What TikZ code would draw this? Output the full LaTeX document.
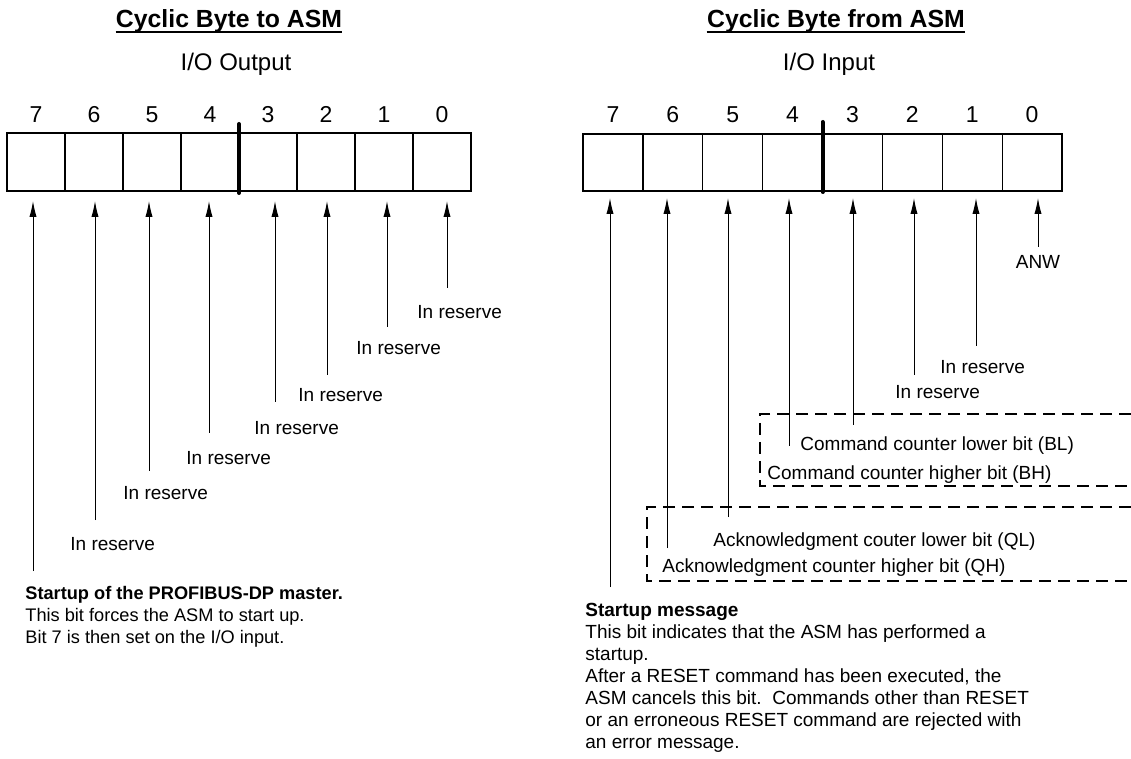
\documentclass[tikz,border=0pt]{standalone}
\usepackage{fontspec}
\setmainfont{Liberation Sans}
\usetikzlibrary{arrows.meta,positioning}

\tikzset{
  bitcell/.style={draw, line width=0.6pt, minimum width=#1, minimum height=29pt, outer sep=0pt, inner sep=0pt},
  bitcell/.default=29pt,
  bitnum/.style={font=\fontsize{11.5}{13}\selectfont, anchor=base, inner sep=0pt},
  divider/.style={line width=2pt, line cap=round},
  bitarrow/.style={-{Latex[length=8pt,width=3.6pt]}, line width=0.5pt},
  heading/.style={font=\fontsize{12.4}{14}\selectfont\bfseries, anchor=base, inner sep=0pt},
  subheading/.style={font=\fontsize{12}{14}\selectfont, anchor=base, inner sep=0pt},
  note/.style={font=\fontsize{9.5}{11}\selectfont, anchor=base west, inner sep=0pt},
  descr/.style={font=\fontsize{9.5}{11}\selectfont, anchor=north west, align=left, inner sep=0pt},
  groupframe/.style={line width=1.2pt, dash pattern=on 6pt off 3.5pt}
}

\begin{document}
\begin{tikzpicture}[x=0.5pt, y=-0.5pt]
  \useasboundingbox (0,0) rectangle (1131,759);

  % output byte (to the ASM)
  \node[heading] (outtitle) at (229,28) {Cyclic Byte to ASM};
  \draw[line width=0.85pt] ([yshift=-2pt]outtitle.base west) -- ([yshift=-2pt]outtitle.base east);
  \node[subheading] (outsub) at (236,71) {I/O Output};
  \foreach \b in {7,...,0} {
    \node[bitcell] (o\b) at ({36+58*(7-\b)},162) {};
    \node[bitnum] (on\b) at ({36+58*(7-\b)},123) {\b};
  }
  \draw[divider] ([yshift=-1pt]o4.south east) -- ([yshift=4.5pt]o4.north east);

  \foreach \b/\px/\py/\lx/\ly in {0/447/288/417/319, 1/387/327/356/355, 2/327/375/298/401,
      3/275/402/254/435, 4/209/433/186/465, 5/149/471/123/500, 6/95/520/70/551} {
    \coordinate (ot\b) at (\px,\py);
    \draw[bitarrow, shorten >=5pt] (ot\b) -- (ot\b |- o\b.south);
    \node[note] (ol\b) at (\lx,\ly) {In reserve};
  }
  \coordinate (ot7) at (33,571);
  \draw[bitarrow, shorten >=5pt] (ot7) -- (ot7 |- o7.south);
  \node[descr, font=\fontsize{9.1}{11}\selectfont] (outdesc) at (25,586) {\textbf{Startup of the PROFIBUS-DP master.}\\
    This bit forces the ASM to start up.\\
    Bit 7 is then set on the I/O input.};

  % input byte (from the ASM)
  \node[heading] (intitle) at (836,28) {Cyclic Byte from ASM};
  \draw[line width=0.85pt] ([yshift=-2pt]intitle.base west) -- ([yshift=-2pt]intitle.base east);
  \node[subheading] (insub) at (829,71) {I/O Input};
  \foreach \b in {7,...,0} {
    \node[bitcell=29.94pt, minimum height=28.5pt] (i\b) at ({613+59.875*(7-\b)},162.5) {};
    \node[bitnum] (in\b) at ({613+59.875*(7-\b)},123) {\b};
  }
  \draw[divider] ([yshift=-0.5pt]i4.south east) -- ([yshift=6pt]i4.north east);

  \foreach \b/\px/\py in {0/1038/247, 1/976/346, 2/914/375, 3/853/425,
      4/789/446, 5/728/517, 6/667/548, 7/610/587} {
    \coordinate (it\b) at (\px,\py);
    \draw[bitarrow, shorten >=3.5pt] (it\b) -- (it\b |- i\b.south);
  }
  \node[note, anchor=base] (il0) at (1038,269) {ANW};
  \node[note] (il1) at (940,374) {In reserve};
  \node[note] (il2) at (895,399) {In reserve};
  \node[note] (il3) at (800,451) {Command counter lower bit (BL)};
  \node[note] (il4) at (767,480) {Command counter higher bit (BH)};
  \node[note] (il5) at (713,546) {Acknowledgment couter lower bit (QL)};
  \node[note] (il6) at (662,572) {Acknowledgment counter higher bit (QH)};

  % counter groups, open to the right
  \draw[groupframe] (1131,414) -| (760,486) -- (1131,486);
  \draw[groupframe] (1131,507) -| (647,581) -- (1131,581);

  \node[descr] (indesc) at (585,603) {\textbf{Startup message}\\
    This bit indicates that the ASM has performed a\\
    startup.\\
    After a RESET command has been executed, the\\
    ASM cancels this bit.\ \ Commands other than RESET\\
    or an erroneous RESET command are rejected with\\
    an error message.};
\end{tikzpicture}
\end{document}
